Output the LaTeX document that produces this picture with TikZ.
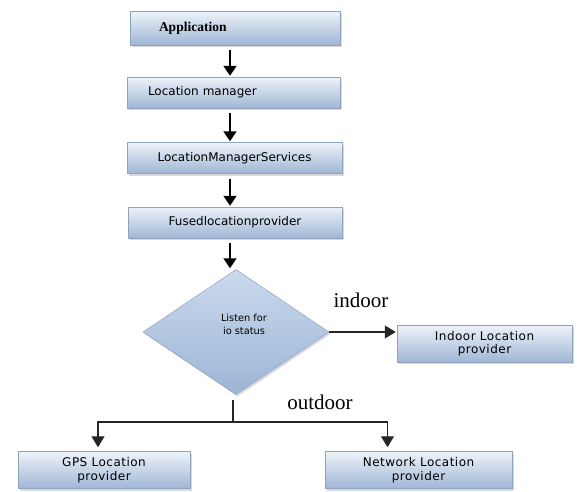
\documentclass[tikz,border=0pt]{standalone}
\usepackage{fontspec}
\usetikzlibrary{arrows.meta,shapes.geometric,shadows,calc}
\newfontfamily\boxsans{DejaVu Sans}
\newfontfamily\boxsansl[LetterSpace=4]{DejaVu Sans}
\newfontfamily\labserif{Liberation Serif}
\definecolor{boxtop}{HTML}{EEF3FA}
\definecolor{boxbot}{HTML}{9FB6D4}
\definecolor{boxline}{HTML}{8FA3BF}
\definecolor{dtop}{HTML}{CBDAED}
\definecolor{dbot}{HTML}{9CB5D6}
\begin{document}
\begin{tikzpicture}[x=1pt,y=-1pt,
  box/.style={draw=boxline, line width=0.5pt, top color=boxtop, bottom color=boxbot,
    inner sep=0pt, drop shadow={opacity=0.3, shadow xshift=1.5pt, shadow yshift=-2pt}},
  topbox/.style={box, minimum width=213pt, minimum height=31pt, font=\boxsans\fontsize{12}{14}\selectfont},
  lowbox/.style={box, minimum height=37pt, align=center, font=\boxsansl\fontsize{12}{13.5}\selectfont},
  arr/.style={line width=1.8pt, -{Triangle[width=13pt,length=10pt]}, shorten <=5pt, shorten >=1pt},
  thin/.style={line width=1.2pt, draw=black!85},
  thinarr/.style={thin, -{Triangle[width=13pt,length=11pt]}, shorten >=4pt},
  lab/.style={font=\labserif\fontsize{21}{24}\selectfont}
]
\useasboundingbox (0,0) rectangle (581,491);

\node[topbox, minimum width=210pt, minimum height=34pt, text width=210pt, align=left,
  font=\labserif\bfseries\fontsize{13.5}{15}\selectfont] (app) at (235,28) {\hspace*{29pt}Application};
\node[topbox, text width=213pt, align=left] (lm) at (233.5,92.5) {\hspace*{21pt}Location manager};
\node[topbox, minimum width=215pt] (lms) at (234.5,158) {LocationManagerServices};
\node[topbox, minimum width=214pt] (fused) at (235,222.5) {Fusedlocationprovider};

\node[diamond, draw=boxline, line width=0.5pt, top color=dtop, bottom color=dbot,
  minimum width=186pt, minimum height=125pt, inner sep=0pt,
  drop shadow={opacity=0.3, shadow xshift=1.5pt, shadow yshift=-2pt}] (dec) at (236,332) {};
\node[align=center, font=\boxsans\fontsize{9.8}{13}\selectfont] (dtext) at (244,324) {Listen for\\io status};

\node[lowbox, minimum width=175pt] (indoor) at (484.5,343.5) {Indoor Location\\provider};
\node[lowbox, minimum width=172pt] (gps) at (104,470) {GPS Location\\provider};
\node[lowbox, minimum width=187pt] (net) at (418.5,470) {Network Location\\provider};

\node[lab] (lin) at (361,300) {indoor};
\node[lab] (lout) at (320,402) {outdoor};

\draw[arr] ([xshift=-5pt]app.south) -- ([xshift=-5pt]app.south |- lm.north);
\draw[arr] ([xshift=-5pt]app.south |- lm.south) -- ([xshift=-5pt]app.south |- lms.north);
\draw[arr] ([xshift=-5pt]app.south |- lms.south) -- ([xshift=-5pt]app.south |- fused.north);
\draw[arr] ([xshift=-5pt]app.south |- fused.south) -- ([xshift=-5pt]app.south |- dec.north);

\draw[thinarr, shorten <=0pt, shorten >=1pt] (dec.east) -- (dec.east -| indoor.west);

\coordinate (split) at (233,422);
\draw[thin, shorten <=5pt] ([xshift=-3pt]dec.south) -- (split);
\draw[thinarr] (split) -| ([xshift=-6pt]gps.north);
\draw[thinarr] (split) -| ([xshift=-31pt]net.north);
\end{tikzpicture}
\end{document}
